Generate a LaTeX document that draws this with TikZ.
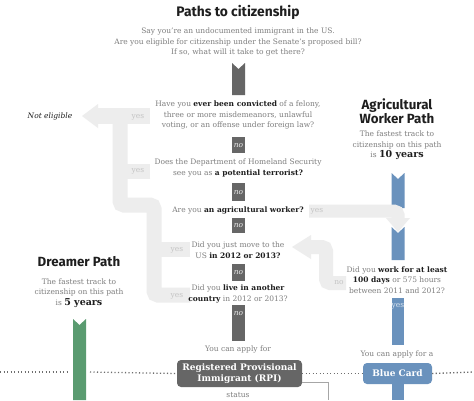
\documentclass[tikz,border=0pt]{standalone}
\usepackage{fontspec}
\setmainfont{DejaVu Serif}
\newfontfamily\headfont{Fira Sans}
\usetikzlibrary{positioning}

\definecolor{bargray}{HTML}{666666}
\definecolor{band}{HTML}{EDEDED}
\definecolor{bandtxt}{HTML}{C4C4C4}
\definecolor{txtgray}{HTML}{7E7E7E}
\definecolor{ink}{HTML}{1E1E1E}
\definecolor{agblue}{HTML}{6A92BD}
\definecolor{drgreen}{HTML}{5A9B70}
\definecolor{dotgray}{HTML}{6E6E6E}

\newcommand{\hl}[1]{\textbf{\color{ink}#1}}
\newcommand{\tailbar}[4]{\fill[#1] (#2-6.5,#3) -- (#2,#3+6) -- (#2+6.5,#3) -- (#2+6.5,#4) -- (#2-6.5,#4) -- cycle;}

\tikzset{
  question/.style={font=\fontsize{7.5}{10.5}\selectfont, text=txtgray, align=center, inner sep=0pt},
  nobox/.style={fill=bargray, text=white!85!gray, font=\fontsize{7.5}{8}\itshape, minimum width=13pt, inner sep=0pt, anchor=north},
  bandline/.style={draw=band, line width=15pt, rounded corners=4pt},
  bandlabel/.style={text=bandtxt, font=\fontsize{7.5}{8}\selectfont, inner sep=0pt},
  pathtitle/.style={font=\headfont\bfseries\fontsize{13.3}{14.5}\selectfont, text=ink, align=center, inner sep=0pt},
  statusbox/.style={rounded corners=4pt, text=white, font=\bfseries\fontsize{9}{10.5}\selectfont, align=center, inner sep=0pt},
  dotline/.style={draw=dotgray, line width=1.3pt, dash pattern=on 1.2pt off 2.3pt}
}

\begin{document}
\begin{tikzpicture}[x=1pt, y=-1pt]
    \useasboundingbox[fill=white] (0,0) rectangle (474,400);

    \node[pathtitle, font=\headfont\bfseries\fontsize{13.8}{15}\selectfont] (title) at (238,12) {Paths to citizenship};
    \node[question] (intro) at (238,42) {Say you're an undocumented immigrant in the US.\\Are you eligible for citizenship under the Senate's proposed bill?\\If so, what will it take to get there?};

    % yes branches on the left
    \draw[bandline, line width=16pt] (98,116) -- (150,116);
    \fill[band] (82,116) -- (98,104) -- (98,128) -- cycle;
    \draw[bandline] (120,116) -- (120,205) -- (154,205) -- (154,295) -- (190,295);
    \draw[bandline] (150,171) -- (120,171);
    \draw[bandline] (190,249) -- (154,249);
    \node[bandlabel] (yes1) at (138,117) {yes};
    \node[bandlabel] (yes2) at (138,171) {yes};
    \node[bandlabel] (yes4) at (177,250) {yes};
    \node[bandlabel] (yes5) at (177,296) {yes};
    \node[font=\fontsize{7.5}{8}\itshape, text=ink] (noteligible) at (50,116) {Not eligible};

    % main column
    \tailbar{bargray}{238.5}{63}{95}
    \node[question] (q1) at (238,115) {Have you \hl{ever been convicted} of a felony,\\three or more misdemeanors, unlawful\\voting, or an offense under foreign law?};
    \node[nobox, minimum height=16pt] (no1) at (238.5,137) {no};
    \node[question] (q2) at (238,168) {Does the Department of Homeland Security\\see you as \hl{a potential terrorist?}};
    \node[nobox, minimum height=18pt] (no2) at (238.5,183) {no};
    \node[question] (q3) at (238,210) {Are you \hl{an agricultural worker?}};
    \node[nobox, minimum height=15pt] (no3) at (238.5,218) {no};
    \node[question] (q4) at (238,250) {Did you just move to the\\US \hl{in 2012 or 2013?}};
    \node[nobox, minimum height=17pt] (no4) at (238.5,264) {no};
    \node[question] (q5) at (238,294) {Did you \hl{live in another}\\\hl{country} in 2012 or 2013?};
    \node[nobox, minimum height=16pt] (no5) at (238.5,305) {no};
    \fill[bargray] (no5.south west) rectangle (245,341);
    \node[question] (apply1) at (238,349) {You can apply for};
    \node[statusbox, fill=bargray, minimum width=125pt, minimum height=27pt] (rpi) at (239.5,373.5) {Registered Provisional\\Immigrant (RPI)};
    \node[question] (status) at (238,395) {status};
    \coordinate (statusend) at (328,400);
    \draw[gray!70, line width=0.6pt] (rpi.east) ++(0,8.5) -| (statusend);

    % agricultural worker path
    \node[pathtitle] (agtitle) at (397,111) {Agricultural\\Worker Path};
    \node[question] (agsub) at (397,145.5) {The fastest track to\\citizenship on this path\\is \hl{\fontsize{9.5}{10}\selectfont 10 years}};
    \tailbar{agblue}{398}{173}{208}
    \draw[bandline, line width=13pt] (309,211) -- (398,211) -- (398,219);
    \fill[band] (386,218) -- (410,218) -- (398,232) -- cycle;
    \node[bandlabel] (yes3) at (317,211) {yes};
    \tailbar{agblue}{398}{227}{260}
    \node[question] (q6) at (397,280) {Did you \hl{work for at least}\\\hl{100 days} or 575 hours\\between 2011 and 2012?};
    \draw[bandline, line width=14pt] (346,283) -- (326,283) -- (326,247) -- (311,247);
    \fill[band] (292,247) -- (311,235) -- (311,259) -- cycle;
    \node[bandlabel] (no6) at (339,283) {no};
    \node[fill=agblue, minimum width=12pt, minimum height=47pt, inner sep=0pt, anchor=north] (yes6) at (398,298) {};
    \node[bandlabel, text=white!75!agblue] at (398,306) {yes};
    \node[question] (apply2) at (397,354) {You can apply for a};
    \node[statusbox, fill=agblue, minimum width=69pt, minimum height=21pt] (bluecard) at (397.5,373.5) {Blue Card};
    \fill[agblue] (392,384) rectangle (404,400);

    % dreamer path
    \node[pathtitle] (drtitle) at (79,262) {Dreamer Path};
    \node[question] (drsub) at (79,293) {The fastest track to\\citizenship on this path\\is \hl{\fontsize{9.5}{10}\selectfont 5 years}};
    \tailbar{drgreen}{79.5}{319}{400}

    \draw[dotline] (0,372) -- (69,372);
    \draw[dotline] (90,372) -- (rpi.west);
    \draw[dotline] (rpi.east) -- (bluecard.west);
    \draw[dotline] (bluecard.east) -- (474,372);
\end{tikzpicture}
\end{document}
